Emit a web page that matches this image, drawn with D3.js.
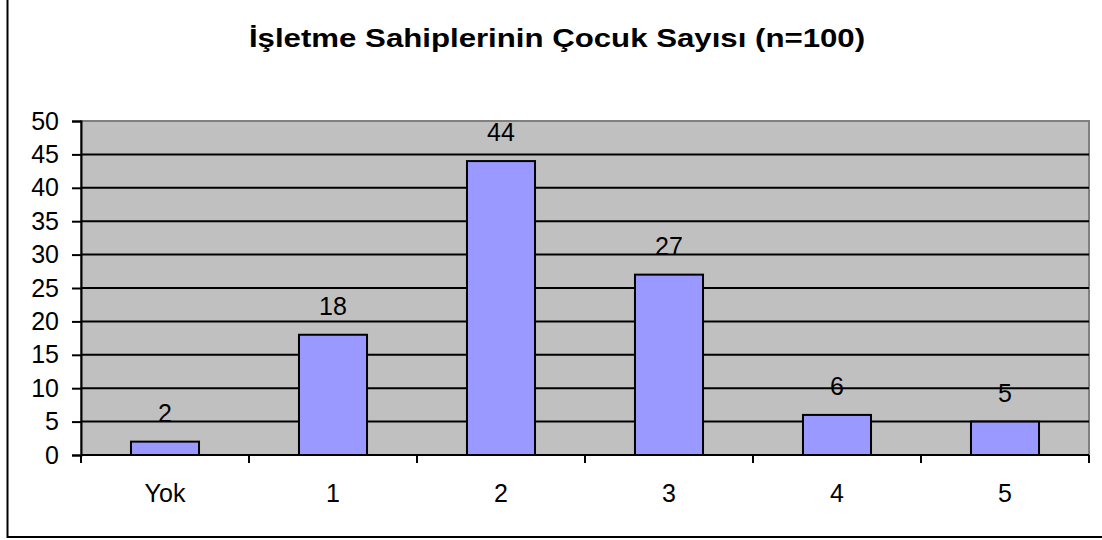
<!DOCTYPE html>
<html>
<head>
<meta charset="utf-8">
<script src="https://cdn.jsdelivr.net/npm/d3@7"></script>
<style>
  html, body { margin: 0; padding: 0; background: #fff; }
  svg { display: block; font-family: "Liberation Sans", Arial, sans-serif; }
</style>
</head>
<body>
<svg></svg>
<script>
const categories = ['Yok', '1', '2', '3', '4', '5'];
const counts = [2, 18, 44, 27, 6, 5];
const yTicks = [0, 5, 10, 15, 20, 25, 30, 35, 40, 45, 50];
const title = 'İşletme Sahiplerinin Çocuk Sayısı (n=100)';

const width = 1102;
const height = 540;
const plot = { left: 81, top: 121, right: 1089, bottom: 455 };
const labelSize = 25;

const svg = d3.select('svg')
  .attr('width', width)
  .attr('height', height);

// outer chart frame (top and right edges fall outside the picture)
svg.append('rect')
  .attr('x', 7.5)
  .attr('y', -10)
  .attr('width', width + 20)
  .attr('height', 537 - (-10))
  .attr('fill', '#fff')
  .attr('stroke', '#000')
  .attr('stroke-width', 2);

// title is drawn a bit wider than tall, like the source
svg.append('text')
  .attr('transform', 'translate(557,47) scale(1.2,1)')
  .attr('text-anchor', 'middle')
  .attr('font-size', 26)
  .attr('font-weight', 'bold')
  .text(title);

const x = d3.scaleBand()
  .domain(categories)
  .range([plot.left, plot.right])
  .paddingInner(0.595)
  .paddingOuter(0.2975);

const xEdge = d3.scaleLinear()
  .domain([0, categories.length])
  .range([plot.left, plot.right]);

const y = d3.scaleLinear()
  .domain([0, 50])
  .range([plot.bottom, plot.top]);

// plot area background
svg.append('rect')
  .attr('x', plot.left)
  .attr('y', plot.top)
  .attr('width', plot.right - plot.left)
  .attr('height', plot.bottom - plot.top)
  .attr('fill', '#c0c0c0')
  .attr('stroke', '#808080')
  .attr('stroke-width', 2);

// gridlines
svg.append('g')
  .selectAll('line')
  .data(yTicks.filter(d => d > 0 && d < 50))
  .enter().append('line')
  .attr('x1', plot.left)
  .attr('x2', plot.right)
  .attr('y1', d => y(d))
  .attr('y2', d => y(d))
  .attr('stroke', '#000')
  .attr('stroke-width', 2);

// bars
svg.append('g')
  .selectAll('rect')
  .data(counts)
  .enter().append('rect')
  .attr('x', (d, i) => x(categories[i]))
  .attr('y', d => y(d))
  .attr('width', x.bandwidth())
  .attr('height', d => y(0) - y(d))
  .attr('fill', '#9999ff')
  .attr('stroke', '#000')
  .attr('stroke-width', 2);

// value labels
svg.append('g')
  .selectAll('text')
  .data(counts)
  .enter().append('text')
  .attr('x', (d, i) => x(categories[i]) + x.bandwidth() / 2)
  .attr('y', d => y(d) - 20)
  .attr('text-anchor', 'middle')
  .attr('font-size', labelSize)
  .text(d => d);

// y axis
const yAxis = svg.append('g')
  .attr('transform', `translate(${plot.left},0)`)
  .call(d3.axisLeft(y).tickValues(yTicks).tickSize(9).tickPadding(13));
yAxis.select('.domain').attr('stroke', '#000').attr('stroke-width', 2);
yAxis.selectAll('.tick line').attr('stroke', '#000').attr('stroke-width', 2);
yAxis.selectAll('.tick text')
  .attr('font-size', labelSize)
  .attr('font-family', '"Liberation Sans", Arial, sans-serif')
  .attr('fill', '#000');

// x axis line
svg.append('line')
  .attr('x1', plot.left)
  .attr('x2', plot.right)
  .attr('y1', plot.bottom)
  .attr('y2', plot.bottom)
  .attr('stroke', '#000')
  .attr('stroke-width', 2);

// x ticks between categories
svg.append('g')
  .selectAll('line')
  .data(d3.range(categories.length + 1))
  .enter().append('line')
  .attr('x1', d => xEdge(d))
  .attr('x2', d => xEdge(d))
  .attr('y1', plot.bottom)
  .attr('y2', plot.bottom + 8)
  .attr('stroke', '#000')
  .attr('stroke-width', 2);

// category labels
svg.append('g')
  .selectAll('text')
  .data(categories)
  .enter().append('text')
  .attr('x', d => x(d) + x.bandwidth() / 2)
  .attr('y', 502)
  .attr('text-anchor', 'middle')
  .attr('font-size', labelSize)
  .text(d => d);
</script>
</body>
</html>
